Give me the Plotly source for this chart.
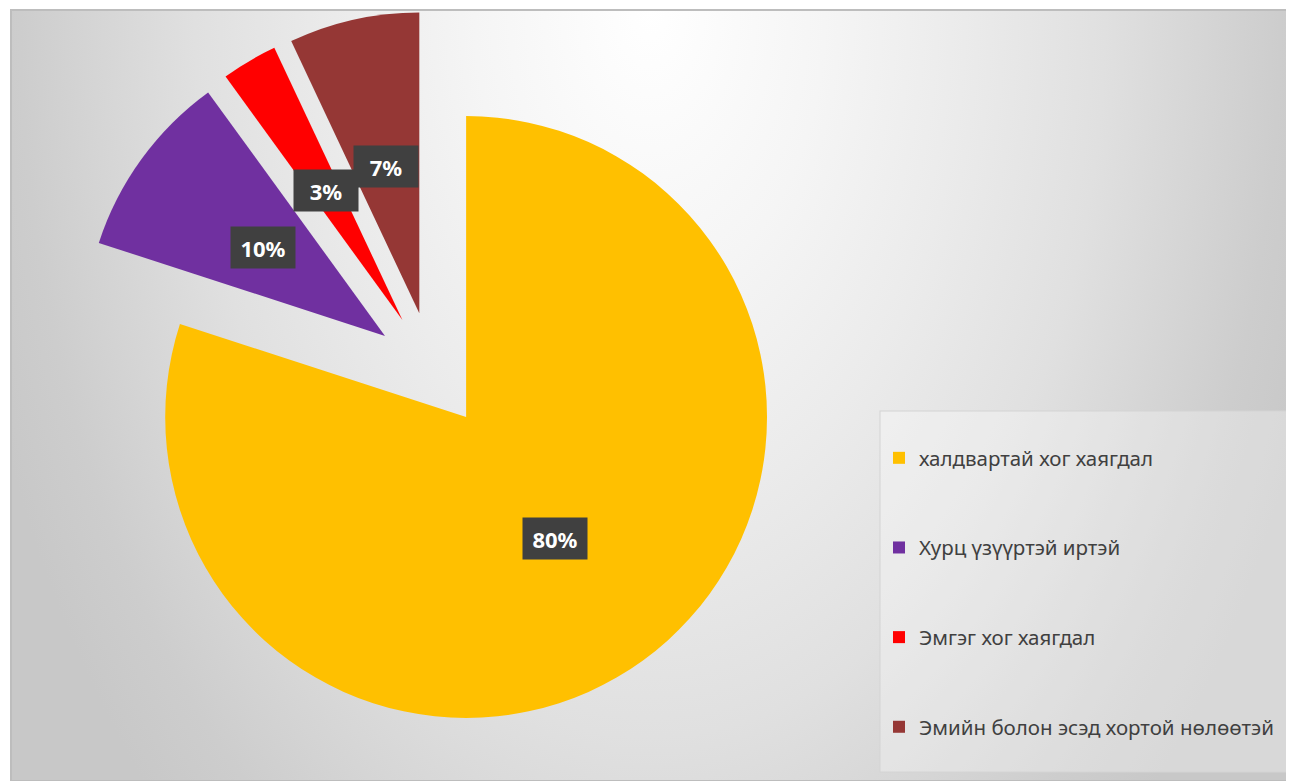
import base64
import math
import plotly.graph_objects as go

# ---------------- data ----------------
labels = [
    "халдвартай хог хаягдал",
    "Хурц үзүүртэй иртэй",
    "Эмгэг хог хаягдал",
    "Эмийн болон эсэд хортой нөлөөтэй",
]
values = [80, 10, 3, 7]
value_text = ["80%", "10%", "3%", "7%"]
colors = ["#FFC000", "#7030A0", "#FF0000", "#953735"]

# ---------------- layout constants ----------------
W, H = 1294, 781
PULL = 0.193
DOM_X = [0.0502, 0.6051]
DOM_Y = [0.0768, 0.9961]

fig = go.Figure()

# legend-only entries (tiny pies hidden under the big yellow slice)
for i, (lab, val, col) in enumerate(zip(labels, values, colors)):
    fig.add_trace(go.Pie(
        labels=[lab], values=[val],
        marker=dict(colors=[col], line=dict(width=0)),
        domain=dict(x=[0.40, 0.4001], y=[0.30, 0.3001]),
        textinfo="none", hoverinfo="skip",
        legendgroup=f"g{i}", showlegend=True, sort=False,
    ))

# main exploded pie
fig.add_trace(go.Pie(
    labels=labels, values=values,
    marker=dict(colors=colors, line=dict(width=0)),
    pull=[PULL] * len(values),
    sort=False, direction="clockwise", rotation=0,
    domain=dict(x=DOM_X, y=DOM_Y),
    textinfo="none", showlegend=False,
    hovertemplate="%{label}: %{percent}<extra></extra>",
))

# data label boxes, placed from the slice geometry
box_w = W * (DOM_X[1] - DOM_X[0])
box_h = H * (DOM_Y[1] - DOM_Y[0])
cx = W * (DOM_X[0] + DOM_X[1]) / 2
cy = H * (1 - DOM_Y[0]) - box_h / 2
r = min(box_w, box_h) / 2 / (1 + PULL)
total = sum(values)
cum = 0
annotations = []
for val, txt in zip(values, value_text):
    mid = (cum + val / 2) / total * 2 * math.pi
    cum += val
    d = (PULL + 0.5) * r
    px = cx + d * math.sin(mid)
    py = cy - d * math.cos(mid)
    annotations.append(dict(
        x=px / W, y=1 - py / H, xref="paper", yref="paper",
        text=f"<b>{txt}</b>", showarrow=False,
        font=dict(family="Noto Sans", size=22, color="white"),
        bgcolor="#404040", width=50, height=27, borderpad=7,
        xanchor="center", yanchor="middle",
    ))

# background (gradient chart area + legend panel)
svg = """<svg xmlns="http://www.w3.org/2000/svg" width="1284" height="772" viewBox="0 0 1284 772" preserveAspectRatio="none">
<defs><radialGradient id="g" gradientUnits="userSpaceOnUse" cx="640" cy="0" r="700"
 gradientTransform="translate(640 0) scale(1 1.6) translate(-640 0)">
<stop offset="0" stop-color="#ffffff"/>
<stop offset="0.25" stop-color="#f5f5f5"/>
<stop offset="0.45" stop-color="#ebebeb"/>
<stop offset="0.65" stop-color="#e0e0e0"/>
<stop offset="0.9" stop-color="#cdcdcd"/>
<stop offset="1" stop-color="#c8c8c8"/>
</radialGradient></defs>
<rect x="0" y="0" width="1284" height="772" fill="url(#g)"/>
<rect x="1" y="1" width="1283" height="771" fill="none" stroke="#bdbdbd" stroke-width="2"/>
<rect x="870" y="402" width="414" height="361" fill="#ffffff" fill-opacity="0.3" stroke="#d4d4d4" stroke-width="1"/>
</svg>"""
src = "data:image/svg+xml;base64," + base64.b64encode(svg.encode("utf-8")).decode("ascii")

fig.update_layout(
    width=W, height=H, autosize=False,
    margin=dict(l=0, r=0, t=0, b=0),
    paper_bgcolor="white",
    images=[dict(
        source=src, xref="paper", yref="paper",
        x=2 / W, y=1 - 1 / H, sizex=1284 / W, sizey=772 / H,
        xanchor="left", yanchor="top", sizing="stretch", layer="below",
    )],
    annotations=annotations,
    legend=dict(
        x=871 / W, y=1 - 430 / H, xanchor="left", yanchor="top",
        bgcolor="rgba(0,0,0,0)", traceorder="grouped", tracegroupgap=60,
        font=dict(family="Noto Sans", size=20.5, color="#404040"),
    ),
)

fig.write_html("out.html")
